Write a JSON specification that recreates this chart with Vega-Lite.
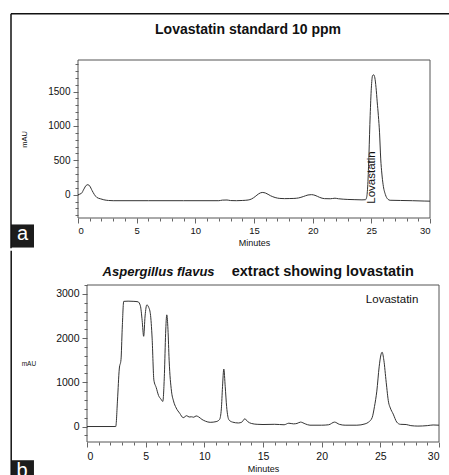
{
  "$schema": "https://vega.github.io/schema/vega-lite/v6.json",
  "padding": {"left": 10, "top": 13, "right": 0, "bottom": 0},
  "background": "white",
  "spacing": 0,
  "config": {
    "font": "Liberation Sans",
    "view": {"stroke": null},
    "axis": {"grid": false, "domain": false, "tickColor": "#666", "labelColor": "#111", "titleColor": "#111", "labelFont": "Liberation Sans", "titleFont": "Liberation Sans", "titleFontWeight": "normal"}
  },
  "datasets": {
    "standard": [
      {"min": 0, "mAU": 0}, {"min": 0.3, "mAU": 20}, {"min": 0.5, "mAU": 80}, {"min": 0.7, "mAU": 135}, {"min": 0.85, "mAU": 145},
      {"min": 1.0, "mAU": 125}, {"min": 1.2, "mAU": 60}, {"min": 1.4, "mAU": 0}, {"min": 1.6, "mAU": -40}, {"min": 1.9, "mAU": -60},
      {"min": 2.2, "mAU": -75}, {"min": 2.6, "mAU": -85}, {"min": 3, "mAU": -88}, {"min": 6, "mAU": -88}, {"min": 9, "mAU": -88},
      {"min": 12, "mAU": -88}, {"min": 12.3, "mAU": -80}, {"min": 12.7, "mAU": -78}, {"min": 13.0, "mAU": -86}, {"min": 13.5, "mAU": -88},
      {"min": 14.0, "mAU": -85}, {"min": 14.5, "mAU": -78}, {"min": 14.8, "mAU": -62}, {"min": 15.1, "mAU": -28}, {"min": 15.4, "mAU": 12},
      {"min": 15.7, "mAU": 32}, {"min": 16.0, "mAU": 22}, {"min": 16.4, "mAU": -15}, {"min": 16.8, "mAU": -42}, {"min": 17.2, "mAU": -55},
      {"min": 17.6, "mAU": -58}, {"min": 18.0, "mAU": -57}, {"min": 18.4, "mAU": -55}, {"min": 18.8, "mAU": -48}, {"min": 19.2, "mAU": -28},
      {"min": 19.6, "mAU": -5}, {"min": 19.9, "mAU": 0}, {"min": 20.2, "mAU": -10}, {"min": 20.6, "mAU": -40}, {"min": 21.0, "mAU": -58},
      {"min": 21.5, "mAU": -60}, {"min": 21.9, "mAU": -52}, {"min": 22.2, "mAU": -60}, {"min": 22.6, "mAU": -66}, {"min": 23.0, "mAU": -70},
      {"min": 23.6, "mAU": -73}, {"min": 24.2, "mAU": -76}, {"min": 24.5, "mAU": -74}, {"min": 24.6, "mAU": -40}, {"min": 24.7, "mAU": 150},
      {"min": 24.8, "mAU": 600}, {"min": 24.9, "mAU": 1150}, {"min": 25.0, "mAU": 1550}, {"min": 25.1, "mAU": 1730}, {"min": 25.2, "mAU": 1745},
      {"min": 25.3, "mAU": 1700}, {"min": 25.4, "mAU": 1560}, {"min": 25.5, "mAU": 1350}, {"min": 25.6, "mAU": 1150}, {"min": 25.7, "mAU": 900},
      {"min": 25.8, "mAU": 520}, {"min": 25.9, "mAU": 300}, {"min": 26.0, "mAU": 150}, {"min": 26.2, "mAU": 0}, {"min": 26.4, "mAU": -65},
      {"min": 26.6, "mAU": -82}, {"min": 27.5, "mAU": -85}, {"min": 28.5, "mAU": -88}, {"min": 29.5, "mAU": -93}, {"min": 30, "mAU": -95}
    ],
    "extract": [
      {"min": 0, "mAU": 0}, {"min": 2.45, "mAU": 0}, {"min": 2.6, "mAU": 600}, {"min": 2.75, "mAU": 1300}, {"min": 2.9, "mAU": 1520},
      {"min": 3.0, "mAU": 2200}, {"min": 3.13, "mAU": 2830}, {"min": 3.5, "mAU": 2835}, {"min": 4.0, "mAU": 2830}, {"min": 4.35, "mAU": 2820},
      {"min": 4.55, "mAU": 2730}, {"min": 4.7, "mAU": 2400}, {"min": 4.83, "mAU": 2040}, {"min": 4.95, "mAU": 2500}, {"min": 5.1, "mAU": 2750},
      {"min": 5.25, "mAU": 2700}, {"min": 5.4, "mAU": 2550}, {"min": 5.55, "mAU": 2000}, {"min": 5.7, "mAU": 1050}, {"min": 5.9, "mAU": 880},
      {"min": 6.1, "mAU": 700}, {"min": 6.3, "mAU": 620}, {"min": 6.46, "mAU": 567}, {"min": 6.6, "mAU": 1200}, {"min": 6.7, "mAU": 2100},
      {"min": 6.8, "mAU": 2525}, {"min": 6.9, "mAU": 2200}, {"min": 7.0, "mAU": 1500}, {"min": 7.2, "mAU": 800}, {"min": 7.37, "mAU": 580},
      {"min": 7.6, "mAU": 420}, {"min": 7.9, "mAU": 300}, {"min": 8.2, "mAU": 200}, {"min": 8.5, "mAU": 245}, {"min": 8.7, "mAU": 215},
      {"min": 8.9, "mAU": 220}, {"min": 9.1, "mAU": 210}, {"min": 9.3, "mAU": 240}, {"min": 9.5, "mAU": 220}, {"min": 9.8, "mAU": 160},
      {"min": 10.1, "mAU": 120}, {"min": 10.5, "mAU": 95}, {"min": 11.0, "mAU": 110}, {"min": 11.3, "mAU": 160}, {"min": 11.45, "mAU": 400},
      {"min": 11.55, "mAU": 900}, {"min": 11.66, "mAU": 1300}, {"min": 11.78, "mAU": 900}, {"min": 11.9, "mAU": 450}, {"min": 12.1, "mAU": 150},
      {"min": 12.4, "mAU": 100}, {"min": 12.9, "mAU": 80}, {"min": 13.2, "mAU": 100}, {"min": 13.45, "mAU": 175}, {"min": 13.7, "mAU": 110},
      {"min": 14.0, "mAU": 70}, {"min": 14.5, "mAU": 50}, {"min": 15, "mAU": 45}, {"min": 16, "mAU": 50}, {"min": 16.8, "mAU": 40},
      {"min": 17.2, "mAU": 75}, {"min": 17.6, "mAU": 60}, {"min": 17.9, "mAU": 70}, {"min": 18.2, "mAU": 100}, {"min": 18.6, "mAU": 60},
      {"min": 19.0, "mAU": 30}, {"min": 20.0, "mAU": 30}, {"min": 20.6, "mAU": 40}, {"min": 21.1, "mAU": 100}, {"min": 21.5, "mAU": 50},
      {"min": 22, "mAU": 30}, {"min": 23, "mAU": 30}, {"min": 23.7, "mAU": 60}, {"min": 24.0, "mAU": 100}, {"min": 24.3, "mAU": 200},
      {"min": 24.5, "mAU": 450}, {"min": 24.7, "mAU": 800}, {"min": 24.9, "mAU": 1350}, {"min": 25.05, "mAU": 1620}, {"min": 25.15, "mAU": 1680},
      {"min": 25.3, "mAU": 1500}, {"min": 25.5, "mAU": 1000}, {"min": 25.7, "mAU": 550}, {"min": 25.85, "mAU": 420}, {"min": 26.1, "mAU": 280},
      {"min": 26.4, "mAU": 100}, {"min": 26.7, "mAU": 50}, {"min": 27.2, "mAU": 45}, {"min": 27.6, "mAU": 20}, {"min": 28.2, "mAU": 10},
      {"min": 29.0, "mAU": 20}, {"min": 29.5, "mAU": 35}, {"min": 30.0, "mAU": 30}
    ]
  },
  "vconcat": [
    {
      "width": 352,
      "height": 158,
      "data": {"name": "standard"},
      "encoding": {
        "x": {"field": "min", "type": "quantitative", "scale": {"domain": [0, 30], "nice": false},
          "axis": {"values": [0,1,2,3,4,5,6,7,8,9,10,11,12,13,14,15,16,17,18,19,20,21,22,23,24,25,26,27,28,29,30],
            "labelExpr": "datum.value % 5 === 0 ? datum.label : ''",
            "tickSize": {"condition": {"test": "datum.value % 5 === 0", "value": 5}, "value": 3},
            "labelFontSize": 9.5, "labelPadding": 2, "title": "Minutes", "titleFontSize": 9, "titlePadding": 4}},
        "y": {"field": "mAU", "type": "quantitative", "scale": {"domain": [-340, 1960], "nice": false, "zero": false},
          "axis": {"values": [-300,-200,-100,0,100,200,300,400,500,600,700,800,900,1000,1100,1200,1300,1400,1500,1600,1700,1800,1900],
            "format": "d",
            "labelExpr": "datum.value % 500 === 0 ? datum.label : ''",
            "tickSize": {"condition": {"test": "datum.value % 500 === 0", "value": 5}, "value": 3},
            "labelFontSize": 10, "labelPadding": 3, "title": "mAU", "titleFontSize": 7.5, "titlePadding": 19}}
      },
      "layer": [
        {"transform": [{"filter": "datum.min === 0"}],
          "mark": {"type": "rect", "filled": false, "color": "#555", "strokeWidth": 1},
          "encoding": {"x": {"datum": 0}, "x2": {"datum": 30}, "y": {"datum": -340}, "y2": {"datum": 1960}}},
        {"mark": {"type": "line", "color": "#333", "strokeWidth": 1, "interpolate": "monotone"}},
        {"transform": [{"filter": "datum.min === 0"}],
          "mark": {"type": "text", "text": "Lovastatin standard 10 ppm", "fontSize": 14, "fontWeight": "bold", "color": "#111", "align": "center", "baseline": "middle"},
          "encoding": {"x": {"datum": 14.49}, "y": {"datum": 2402}}},
        {"transform": [{"filter": "datum.min === 0"}],
          "mark": {"type": "text", "text": "Lovastatin", "angle": 270, "fontSize": 11.5, "color": "#111", "align": "center", "baseline": "middle"},
          "encoding": {"x": {"datum": 25.05}, "y": {"datum": 250}}},
        {"transform": [{"filter": "datum.min === 0"}],
          "mark": {"type": "rect", "color": "#1c1c1c"},
          "encoding": {"x": {"datum": -5.71}, "x2": {"datum": -3.75}, "y": {"datum": -434}, "y2": {"datum": -770}}},
        {"transform": [{"filter": "datum.min === 0"}],
          "mark": {"type": "text", "text": "a", "fontSize": 20, "color": "white", "align": "center", "baseline": "alphabetic"},
          "encoding": {"x": {"datum": -4.73}, "y": {"datum": -656}}},
        {"transform": [{"filter": "datum.min === 0"}],
          "mark": {"type": "rule", "color": "#111", "strokeWidth": 1.5},
          "encoding": {"x": {"datum": -5.71}, "x2": {"datum": 31.7}, "y": {"datum": 2632}}},
        {"transform": [{"filter": "datum.min === 0"}],
          "mark": {"type": "rule", "color": "#111", "strokeWidth": 1.5},
          "encoding": {"x": {"datum": -5.71}, "y": {"datum": 2632}, "y2": {"datum": -780}}}
      ]
    },
    {
      "width": 361,
      "height": 157,
      "data": {"name": "extract"},
      "encoding": {
        "x": {"field": "min", "type": "quantitative", "scale": {"domain": [0, 30], "nice": false, "range": [9, 361]},
          "axis": {"values": [0,1,2,3,4,5,6,7,8,9,10,11,12,13,14,15,16,17,18,19,20,21,22,23,24,25,26,27,28,29,30],
            "labelExpr": "datum.value % 5 === 0 ? datum.label : ''",
            "tickSize": {"condition": {"test": "datum.value % 5 === 0", "value": 5}, "value": 3},
            "labelFontSize": 10.5, "labelPadding": 4, "title": "Minutes", "titleFontSize": 9, "titlePadding": 3}},
        "y": {"field": "mAU", "type": "quantitative", "scale": {"domain": [-350, 3200], "nice": false, "zero": false},
          "axis": {"values": [-200,0,200,400,600,800,1000,1200,1400,1600,1800,2000,2200,2400,2600,2800,3000,3200],
            "format": "d", "offset": -9,
            "labelExpr": "datum.value % 1000 === 0 ? datum.label : ''",
            "tickSize": {"condition": {"test": "datum.value % 1000 === 0", "value": 5}, "value": 3},
            "labelFontSize": 10.5, "labelPadding": 3, "title": "mAU", "titleFontSize": 6.5, "titleAngle": 0, "titleAlign": "right", "titleBaseline": "middle", "titlePadding": 20}}
      },
      "layer": [
        {"transform": [{"filter": "datum.min === 0"}],
          "mark": {"type": "rect", "filled": false, "color": "#555", "strokeWidth": 1},
          "encoding": {"x": {"datum": 0}, "x2": {"datum": 30}, "y": {"datum": -350}, "y2": {"datum": 3200}}},
        {"mark": {"type": "line", "color": "#333", "strokeWidth": 1, "interpolate": "monotone"}},
        {"transform": [{"filter": "datum.min === 0"}],
          "mark": {"type": "text", "text": "Aspergillus flavus", "fontSize": 13, "fontWeight": "bold", "fontStyle": "italic", "color": "#111", "align": "center", "baseline": "middle"},
          "encoding": {"x": {"datum": 6.10}, "y": {"datum": 3485}}},
        {"transform": [{"filter": "datum.min === 0"}],
          "mark": {"type": "text", "text": "extract showing lovastatin", "fontSize": 14.5, "fontWeight": "bold", "color": "#111", "align": "center", "baseline": "middle"},
          "encoding": {"x": {"datum": 20.09}, "y": {"datum": 3485}}},
        {"transform": [{"filter": "datum.min === 0"}],
          "mark": {"type": "text", "text": "Lovastatin", "fontSize": 11.5, "color": "#111", "align": "center", "baseline": "middle"},
          "encoding": {"x": {"datum": 26}, "y": {"datum": 2866}}},
        {"transform": [{"filter": "datum.min === 0"}],
          "mark": {"type": "rect", "color": "#1c1c1c"},
          "encoding": {"x": {"datum": -6.46}, "x2": {"datum": -4.52}, "y": {"datum": -762}, "y2": {"datum": -1118}}},
        {"transform": [{"filter": "datum.min === 0"}],
          "mark": {"type": "text", "text": "b", "fontSize": 20, "color": "white", "align": "center", "baseline": "alphabetic"},
          "encoding": {"x": {"datum": -5.54}, "y": {"datum": -1141}}},
        {"transform": [{"filter": "datum.min === 0"}],
          "mark": {"type": "rule", "color": "#111", "strokeWidth": 1.5},
          "encoding": {"x": {"datum": -6.46}, "y": {"datum": 3975}, "y2": {"datum": -1118}}}
      ]
    }
  ]
}
